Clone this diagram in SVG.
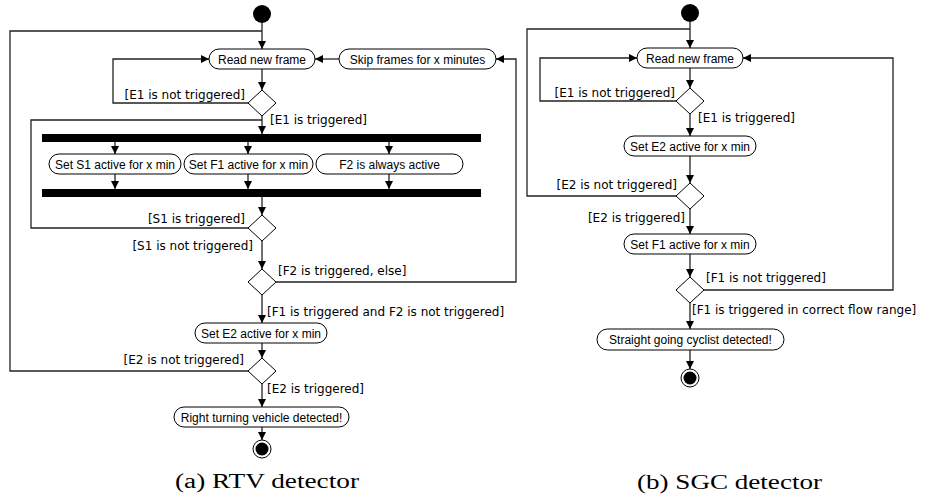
<svg xmlns="http://www.w3.org/2000/svg" width="925" height="500" viewBox="0 0 925 500">
<style>
.bg{fill:#fff}
.node rect{fill:#fff;stroke:#000;stroke-width:1}
.node text{font-family:"Liberation Sans",Arial,sans-serif;font-size:12px;fill:#000;text-anchor:middle}
.dec polygon{fill:#fff;stroke:#000;stroke-width:1}
.bar rect{fill:#000}
.start circle{fill:#000}
.end .o{fill:#fff;stroke:#000;stroke-width:1}
.end .i{fill:#000}
.conn path{fill:none;stroke:#222;stroke-width:1.3}
.conn .a{marker-end:url(#arr)}
.lbl{font-family:"DejaVu Sans",Verdana,sans-serif;font-size:12px;fill:#000}
.r{text-anchor:end}
.cap{font-family:"Liberation Serif","Times New Roman",serif;font-size:20px;fill:#000;text-anchor:middle}
</style>
<defs>
<marker id="arr" markerWidth="9" markerHeight="8" refX="8" refY="4" orient="auto" markerUnits="userSpaceOnUse">
<path d="M0,0 L8,4 L0,8 z" fill="#000"/>
</marker>
</defs>
<rect class="bg" width="925" height="500"/>

<!-- connectors -->
<g id="connectors" class="conn">
<!-- (a) -->
<path class="a" d="M262,23 V49"/>
<path d="M248,371 H10 V31 H262"/>
<path class="a" d="M339,59 H315"/>
<path class="a" d="M276,282 H516 V59 H496"/>
<path class="a" d="M262,69 V90"/>
<path class="a" d="M248,103 H113 V59 H209"/>
<path class="a" d="M262,116 V134"/>
<path d="M248,228 H31 V120 H262"/>
<path class="a" d="M115,142 V154"/>
<path class="a" d="M248,142 V154"/>
<path class="a" d="M389,142 V154"/>
<path class="a" d="M115,174 V189"/>
<path class="a" d="M248,174 V189"/>
<path class="a" d="M389,174 V189"/>
<path class="a" d="M262,197 V215"/>
<path class="a" d="M262,241 V269"/>
<path class="a" d="M262,295 V323"/>
<path class="a" d="M262,343 V358"/>
<path class="a" d="M262,384 V407"/>
<path class="a" d="M262,427 V440"/>
<!-- (b) -->
<path class="a" d="M690,22 V48"/>
<path d="M676,196 H527 V29 H690"/>
<path class="a" d="M690,68 V88"/>
<path class="a" d="M676,101 H540 V58 H637"/>
<path class="a" d="M690,114 V136"/>
<path class="a" d="M690,156 V183"/>
<path class="a" d="M690,209 V234"/>
<path class="a" d="M690,254 V277"/>
<path class="a" d="M704,290 H893 V58 H743"/>
<path class="a" d="M690,303 V329"/>
<path class="a" d="M690,350 V369"/>
</g>

<!-- (a) RTV detector nodes -->
<g id="a-start" class="start"><circle cx="262" cy="14" r="9"/></g>
<g id="a-read" class="node"><rect x="209" y="49" width="106" height="20" rx="10"/><text x="262" y="63.5">Read new frame</text></g>
<g id="a-skip" class="node"><rect x="339" y="49" width="157" height="20" rx="10"/><text x="417.5" y="63.5">Skip frames for x minutes</text></g>
<g id="a-d1" class="dec"><polygon points="262,90 276,103 262,116 248,103"/></g>
<g id="a-fork" class="bar"><rect x="42" y="134" width="439" height="8"/></g>
<g id="a-s1" class="node"><rect x="49" y="154" width="132" height="20" rx="10"/><text x="115" y="168.5">Set S1 active for x min</text></g>
<g id="a-f1" class="node"><rect x="184" y="154" width="129" height="20" rx="10"/><text x="248.5" y="168.5">Set F1 active for x min</text></g>
<g id="a-f2" class="node"><rect x="316" y="154" width="147" height="20" rx="10"/><text x="389.5" y="168.5">F2 is always active</text></g>
<g id="a-join" class="bar"><rect x="42" y="189" width="439" height="8"/></g>
<g id="a-d2" class="dec"><polygon points="262,215 276,228 262,241 248,228"/></g>
<g id="a-d3" class="dec"><polygon points="262,269 276,282 262,295 248,282"/></g>
<g id="a-e2" class="node"><rect x="195" y="323" width="132" height="20" rx="10"/><text x="261" y="337.5">Set E2 active for x min</text></g>
<g id="a-d4" class="dec"><polygon points="262,358 276,371 262,384 248,371"/></g>
<g id="a-det" class="node"><rect x="174" y="407" width="175" height="20" rx="10"/><text x="261.5" y="421.5">Right turning vehicle detected!</text></g>
<g id="a-end" class="end"><circle class="o" cx="262" cy="449" r="9"/><circle class="i" cx="262" cy="449" r="6.5"/></g>

<!-- (a) labels -->
<g id="a-labels" class="lbl">
<text class="r" x="245" y="99">[E1 is not triggered]</text>
<text x="270" y="124">[E1 is triggered]</text>
<text class="r" x="245" y="223">[S1 is triggered]</text>
<text class="r" x="253" y="250">[S1 is not triggered]</text>
<text x="278" y="275">[F2 is triggered, else]</text>
<text x="267" y="316">[F1 is triggered and F2 is not triggered]</text>
<text class="r" x="244" y="364">[E2 is not triggered]</text>
<text x="267" y="393">[E2 is triggered]</text>
</g>

<!-- (b) SGC detector nodes -->
<g id="b-start" class="start"><circle cx="690" cy="13" r="9"/></g>
<g id="b-read" class="node"><rect x="637" y="48" width="106" height="20" rx="10"/><text x="690" y="62.5">Read new frame</text></g>
<g id="b-d1" class="dec"><polygon points="690,88 704,101 690,114 676,101"/></g>
<g id="b-e2" class="node"><rect x="624" y="136" width="132" height="20" rx="10"/><text x="690" y="150.5">Set E2 active for x min</text></g>
<g id="b-d2" class="dec"><polygon points="690,183 704,196 690,209 676,196"/></g>
<g id="b-f1" class="node"><rect x="624" y="234" width="132" height="20" rx="10"/><text x="690" y="248.5">Set F1 active for x min</text></g>
<g id="b-d3" class="dec"><polygon points="690,277 704,290 690,303 676,290"/></g>
<g id="b-det" class="node"><rect x="597" y="329" width="187" height="21" rx="10.5"/><text x="690.5" y="344">Straight going cyclist detected!</text></g>
<g id="b-end" class="end"><circle class="o" cx="690" cy="378" r="9"/><circle class="i" cx="690" cy="378" r="6.5"/></g>

<!-- (b) labels -->
<g id="b-labels" class="lbl">
<text class="r" x="675" y="97">[E1 is not triggered]</text>
<text x="698" y="122">[E1 is triggered]</text>
<text class="r" x="677" y="189">[E2 is not triggered]</text>
<text class="r" x="685" y="222">[E2 is triggered]</text>
<text x="706" y="282">[F1 is not triggered]</text>
<text x="692" y="314">[F1 is triggered in correct flow range]</text>
</g>

<!-- captions -->
<text class="cap" x="267" y="488" textLength="184" lengthAdjust="spacingAndGlyphs">(a) RTV detector</text>
<text class="cap" x="729.5" y="489" textLength="185" lengthAdjust="spacingAndGlyphs">(b) SGC detector</text>
</svg>
